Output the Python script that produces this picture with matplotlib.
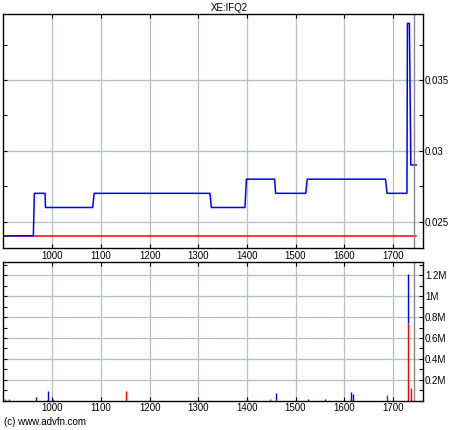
import matplotlib
matplotlib.use("Agg")
import matplotlib.pyplot as plt
from matplotlib.ticker import MultipleLocator, FixedLocator, FuncFormatter

plt.rcParams['font.family'] = ['Liberation Sans', 'DejaVu Sans']

title = "XE:IFQ2"

# price (step line)
price_t = [899, 961, 963, 985, 986, 1083, 1086, 1324, 1327, 1396, 1399, 1457, 1459,
           1521, 1524, 1685, 1688, 1729, 1730, 1734, 1737, 1748]
price_v = [0.024, 0.024, 0.027, 0.027, 0.026, 0.026, 0.027, 0.027, 0.026, 0.026, 0.028,
           0.028, 0.027, 0.027, 0.028, 0.028, 0.027, 0.027, 0.039, 0.039, 0.029, 0.029]
ref_t = [899, 1748]
ref_v = [0.024, 0.024]
marker_t = 1744.5

# volume
vol_t = [903, 910, 966, 989, 991, 1001, 1151, 1400, 1447, 1459, 1525, 1560, 1615, 1619, 1689, 1731, 1738]
vol_red = [0, 12000, 0, 8000, 0, 15000, 95000, 0, 0, 8000, 0, 0, 0, 0, 57000, 740000, 124000]
vol_green = [12000, 0, 0, 0, 0, 0, 0, 0, 15000, 0, 0, 0, 0, 0, 0, 8000, 0]
vol_blue = [0, 0, 38000, 0, 95000, 0, 0, 20000, 0, 70000, 15000, 15000, 85000, 65000, 0, 460000, 0]

xticks = [1000, 1100, 1200, 1300, 1400, 1500, 1600, 1700]
grid_c = '#b4c2c2'
fs = 7

fig = plt.figure(figsize=(4.6, 4.3), dpi=100)
ax = fig.add_axes([3/460, 1-248/430, 420/460, 234/430])
ax2 = fig.add_axes([3/460, 1-400.7/430, 420/460, 138.7/430])

ax.plot(ref_t, ref_v, color='#ff0000', lw=1.1)
ax.plot(price_t, price_v, color='#0000ff', lw=1.1)
ax.axvline(marker_t, color='#8c8490', lw=1)
ax.set_xlim(898.6, 1762)
ax.set_ylim(0.02314, 0.03966)
ax.yaxis.set_major_locator(FixedLocator([0.025, 0.03, 0.035]))
ax.yaxis.set_minor_locator(MultipleLocator(0.0025))
ax.set_yticklabels(["0.025", "0.03", "0.035"])

bottom_g = [r for r in vol_red]
bottom_b = [r + g for r, g in zip(vol_red, vol_green)]
ax2.vlines(vol_t, 0, vol_red, color='#ff0000', lw=1)
ax2.vlines(vol_t, bottom_g, [b + g for b, g in zip(bottom_g, vol_green)], color='#00a000', lw=1)
ax2.vlines(vol_t, bottom_b, [b + v for b, v in zip(bottom_b, vol_blue)], color='#0000ff', lw=1)
ax2.axvline(marker_t, color='#8c8490', lw=1)
ax2.set_xlim(898.6, 1762)
ax2.set_ylim(0, 1327000)
ax2.yaxis.set_major_locator(FixedLocator([200000, 400000, 600000, 800000, 1000000, 1200000]))
ax2.yaxis.set_minor_locator(MultipleLocator(100000))
ax2.yaxis.set_major_formatter(FuncFormatter(lambda v, p: "%gM" % (v / 1e6)))

for a in (ax, ax2):
    a.xaxis.set_major_locator(FixedLocator(xticks))
    a.set_xticklabels([str(t) for t in xticks])
    a.grid(True, which='major', color=grid_c, lw=0.9)
    a.set_axisbelow(True)
    a.yaxis.tick_right()
    a.tick_params(which='both', direction='in', top=True, bottom=True, left=True, right=True,
                  labelleft=False, labelright=True, labelsize=fs, length=3, width=0.8)
    a.tick_params(axis='y', pad=1.5)
    a.tick_params(axis='x', pad=2)
    for s in a.spines.values():
        s.set_linewidth(1.0)

fig.text(229/460, 1-8/430, title, ha='center', va='center', fontsize=fs)
fig.text(4/460, 1-422/430, "(c) www.advfn.com", ha='left', va='center', fontsize=fs)

fig.savefig("out.png", dpi=100)
